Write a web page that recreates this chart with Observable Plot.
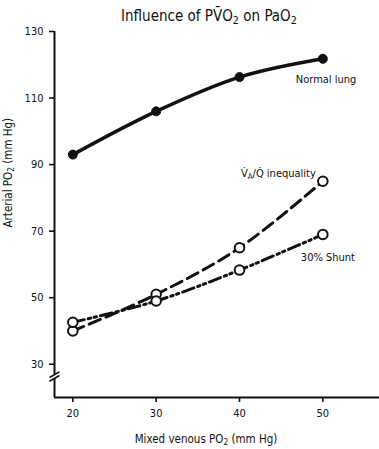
<!DOCTYPE html>
<html>
<head>
<meta charset="utf-8">
<script src="https://cdn.jsdelivr.net/npm/d3@7"></script>
<script src="https://cdn.jsdelivr.net/npm/@observablehq/plot@0.6"></script>
<style>
  html, body { margin: 0; padding: 0; background: #fff; }
  svg { display: block; }
</style>
</head>
<body>
<div id="chart"></div>
<script>
// ---- data ----
const venousPO2 = [20, 30, 40, 50];
const normalLung = [93, 106, 116.3, 121.8];
const vqInequality = [40, 51, 65, 85];
const shunt30 = [42.6, 49, 58.3, 69];
const xTicks = [20, 30, 40, 50];
const yTicks = [30, 50, 70, 90, 110, 130];
const seriesNames = ["Normal lung", "V\u0307_A/Q\u0307 inequality", "30% Shunt"];
const titleText = "Influence of PV\u0304O_2 on PaO_2";
const xLabel = "Mixed venous PO_2 (mm Hg)";
const yLabel = "Arterial PO_2 (mm Hg)";

const rows = (vals, s) => venousPO2.map((x, i) => ({x, y: vals[i], s}));
const normalData = rows(normalLung, seriesNames[0]);
const vqData = rows(vqInequality, seriesNames[1]);
const shuntData = rows(shunt30, seriesNames[2]);

const font = '"Liberation Sans Narrow", "DejaVu Sans Condensed", "Roboto Condensed", sans-serif';
const yBreakLow = 25.6, yBreakHigh = 26.8;
const xMin = 17.8, xMax = 56.8, yMin = 20, yMax = 130;
const breakMarks = [
  {x1: 17.2, y1: 24.9, x2: 18.4, y2: 26.6},
  {x1: 17.2, y1: 26.0, x2: 18.4, y2: 27.7}
];

const plot = Plot.plot({
  width: 379,
  height: 449,
  marginLeft: 54,
  marginRight: 0,
  marginTop: 31,
  marginBottom: 52,
  style: {fontFamily: font, fontSize: "11px", background: "#fff", color: "#111"},
  x: {domain: [xMin, xMax], axis: null},
  y: {domain: [yMin, yMax], axis: null},
  marks: [
    // axes lines
    Plot.ruleY([yMin], {x1: xMin, x2: xMax, stroke: "#111", strokeWidth: 2}),
    Plot.ruleX([xMin], {y1: yMin, y2: yBreakLow, stroke: "#111", strokeWidth: 2}),
    Plot.ruleX([xMin], {y1: yBreakHigh, y2: yMax, stroke: "#111", strokeWidth: 2}),
    Plot.link(breakMarks, {x1: "x1", y1: "y1", x2: "x2", y2: "y2", stroke: "#111", strokeWidth: 1.6}),
    Plot.axisX(xTicks, {tickSize: 5, tickPadding: 7, stroke: "#111", strokeWidth: 1.6, label: null, fontSize: 11, y: yMin, anchor: "bottom"}),
    Plot.axisY(yTicks, {tickSize: 5, tickPadding: 6, stroke: "#111", strokeWidth: 1.6, label: null, fontSize: 11, anchor: "left"}),
    // series lines
    Plot.line(normalData, {x: "x", y: "y", curve: "catmull-rom", stroke: "#111", strokeWidth: 3.5}),
    Plot.line(vqData, {x: "x", y: "y", curve: "catmull-rom", stroke: "#111", strokeWidth: 3, strokeDasharray: "12,6"}),
    Plot.line(shuntData, {x: "x", y: "y", curve: "catmull-rom", stroke: "#111", strokeWidth: 3, strokeDasharray: "12,4,2.5,3.5,2.5,4"}),
    // markers
    Plot.dot(normalData, {x: "x", y: "y", r: 4.5, fill: "#111", stroke: "#111", strokeWidth: 1}),
    Plot.dot(vqData, {x: "x", y: "y", r: 4.8, fill: "#fff", stroke: "#111", strokeWidth: 2}),
    Plot.dot(shuntData, {x: "x", y: "y", r: 4.8, fill: "#fff", stroke: "#111", strokeWidth: 2}),
    // series labels anchored at last points
    Plot.text([normalData[3]], {x: "x", y: "y", text: "s", textAnchor: "start", dx: -27, dy: 21, fontSize: 11, fill: "#111"}),
    Plot.text([vqData[3]], {x: "x", y: "y", text: "s", textAnchor: "end", dx: -7, dy: -8, fontSize: 11, fill: "#111"}),
    Plot.text([shuntData[3]], {x: "x", y: "y", text: "s", textAnchor: "start", dx: -22, dy: 23, fontSize: 11, fill: "#111"}),
    // title and axis labels
    Plot.text([titleText], {frameAnchor: "top", dx: -8, dy: -21, fontSize: 15, fill: "#111"}),
    Plot.text([xLabel], {frameAnchor: "bottom", dx: -11, dy: 45, fontSize: 11.5, fill: "#111"}),
    Plot.text([yLabel], {frameAnchor: "left", dx: -46, dy: 13, rotate: -90, fontSize: 11.5, fill: "#111"})
  ]
});

// convert "_c" markers into subscript tspans
d3.select(plot).selectAll("text").each(function() {
  const el = this;
  const targets = el.querySelector("tspan") ? Array.from(el.querySelectorAll("tspan")) : [el];
  for (const t of targets) {
    const s = t.textContent;
    if (!s.includes("_")) continue;
    t.textContent = "";
    const parts = s.split(/_(.)/);
    parts.forEach((p, i) => {
      if (!p) return;
      const ts = document.createElementNS("http://www.w3.org/2000/svg", "tspan");
      ts.textContent = p;
      if (i % 2 === 1) {
        ts.setAttribute("baseline-shift", "-25%");
        ts.setAttribute("font-size", "72%");
      }
      t.appendChild(ts);
    });
  }
});

document.getElementById("chart").appendChild(plot);
</script>
</body>
</html>
